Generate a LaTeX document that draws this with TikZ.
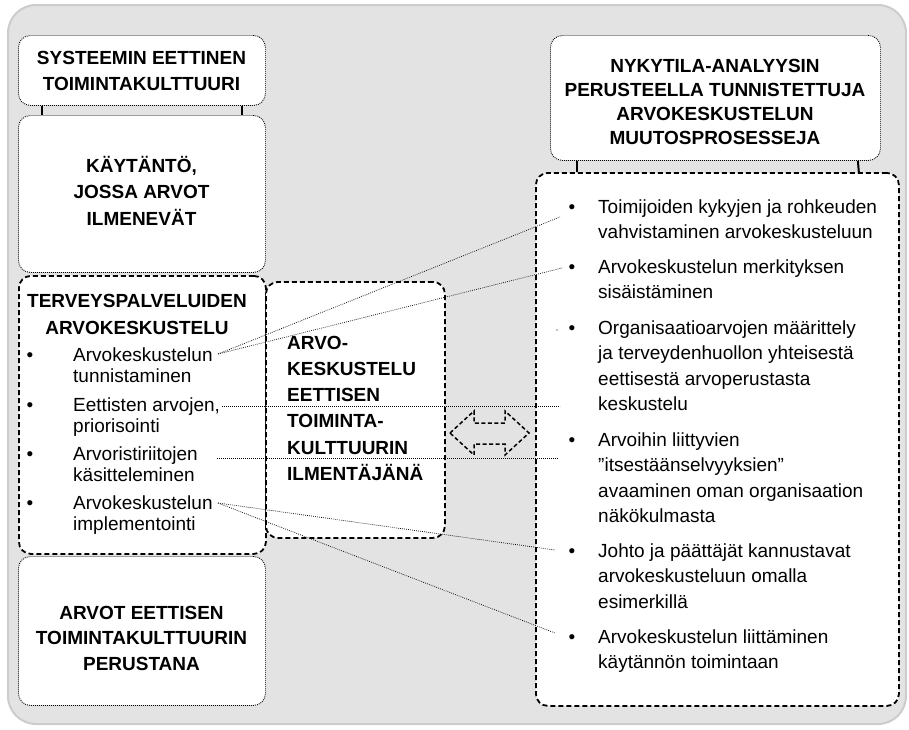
\documentclass[tikz,border=0pt]{standalone}
\usepackage{fontspec}
\setmainfont{Liberation Sans}
\begin{document}
\begin{tikzpicture}[x=1pt,y=-1pt,
  dotbox/.style={draw, fill=white, line width=0.9pt, dash pattern=on 0.9pt off 1.1pt,
    rounded corners=12pt, inner sep=0pt, anchor=north west},
  dashbox/.style={draw, fill=white, line width=1.8pt, dash pattern=on 5pt off 3pt,
    rounded corners=12pt, inner sep=0pt, anchor=north west},
  head/.style={inner sep=0pt, font=\bfseries\fontsize{19}{26}\selectfont, align=center, anchor=base},
  ltxt/.style={inner sep=0pt, font=\fontsize{19}{21.5}\selectfont, align=left, anchor=base west},
  rtxt/.style={inner sep=0pt, font=\fontsize{19}{25.5}\selectfont, align=left, anchor=base west},
  bul/.style={inner sep=0pt, font=\fontsize{19}{22}\selectfont, anchor=base},
  link/.style={draw, line width=0.7pt, dash pattern=on 0.8pt off 1.2pt},
  joint/.style={draw, line width=2pt}
]
\useasboundingbox (0,0) rectangle (909,729);

% grey panel
\draw[fill=black!11, draw=black!20, line width=2pt, rounded corners=28pt]
  (8,5) rectangle (906,724);

% left column
\node[dotbox, minimum width=247pt, minimum height=70pt] (sys) at (18,35) {};
\node[dotbox, minimum width=247pt, minimum height=157pt] (prac) at (18,115) {};
\node[dashbox, minimum width=247pt, minimum height=278pt] (disc) at (18,275) {};
\node[dotbox, minimum width=247pt, minimum height=149pt] (found) at (18,556) {};

% middle box
\node[dashbox, minimum width=179pt, minimum height=256pt] (mid) at (265,281) {};

% right column
\node[dotbox, minimum width=330pt, minimum height=125pt] (now) at (550,35) {};
\node[dashbox, minimum width=363pt, minimum height=533pt] (proc) at (535,172) {};

% short joints between boxes
\draw[joint] ([xshift=24pt]sys.south west) -- ([xshift=24pt]prac.north west);
\draw[joint] ([xshift=-24pt]sys.south east) -- ([xshift=-24pt]prac.north east);
\draw[joint] ([xshift=27pt]now.south west) -- ([xshift=42pt]proc.north west);
\draw[joint] ([xshift=-23pt]now.south east) -- ([xshift=-41pt]proc.north east);

% headings (anchored at the baseline of their last line)
\node[head] (sysT) at (141.5,90) {SYSTEEMIN EETTINEN\\TOIMINTAKULTTUURI};
\node[head, font=\bfseries\fontsize{19}{26.5}\selectfont] (pracT) at (141.5,225) {KÄYTÄNTÖ,\\JOSSA ARVOT\\ILMENEVÄT};
\node[head, font=\bfseries\fontsize{19}{27}\selectfont] (discT) at (137,334) {TERVEYSPALVELUIDEN\\ARVOKESKUSTELU};
\node[head, font=\bfseries\fontsize{19}{25.5}\selectfont] (foundT) at (141.5,670) {ARVOT EETTISEN\\TOIMINTAKULTTUURIN\\PERUSTANA};
\node[head, font=\bfseries\fontsize{19}{24}\selectfont] (nowT) at (715,144) {NYKYTILA-ANALYYSIN\\PERUSTEELLA TUNNISTETTUJA\\ARVOKESKUSTELUN\\MUUTOSPROSESSEJA};
\node[head, font=\bfseries\fontsize{19}{26.3}\selectfont, align=left, anchor=base west] (midT) at (287,480.5)
  {ARVO-\\KESKUSTELU\\EETTISEN\\TOIMINTA-\\KULTTUURIN\\ILMENTÄJÄNÄ};

% left list
\node[bul] (lb1) at (30,361) {•};
\node[ltxt] (l1) at (73,382.5) {Arvokeskustelun\\tunnistaminen};
\node[bul] (lb2) at (30,411) {•};
\node[ltxt] (l2) at (73,432.5) {Eettisten arvojen,\\priorisointi};
\node[bul] (lb3) at (30,460) {•};
\node[ltxt] (l3) at (73,481.5) {Arvoristiriitojen\\käsitteleminen};
\node[bul] (lb4) at (30,509) {•};
\node[ltxt] (l4) at (73,530.5) {Arvokeskustelun\\implementointi};

% right list
\node[bul] (rb1) at (572,213) {•};
\node[rtxt] (r1) at (598,238.5) {Toimijoiden kykyjen ja rohkeuden\\vahvistaminen arvokeskusteluun};
\node[bul] (rb2) at (572,273) {•};
\node[rtxt] (r2) at (598,298.5) {Arvokeskustelun merkityksen\\sisäistäminen};
\node[bul] (rb3) at (572,334) {•};
\node[rtxt] (r3) at (598,410.5) {Organisaatioarvojen määrittely\\ja terveydenhuollon yhteisestä\\eettisestä arvoperustasta\\keskustelu};
\node[bul] (rb4) at (572,446) {•};
\node[rtxt] (r4) at (598,522.5) {Arvoihin liittyvien\\”itsestäänselvyyksien”\\avaaminen oman organisaation\\näkökulmasta};
\node[bul] (rb5) at (572,557) {•};
\node[rtxt] (r5) at (598,608) {Johto ja päättäjät kannustavat\\arvokeskusteluun omalla\\esimerkillä};
\node[bul] (rb6) at (572,643) {•};
\node[rtxt] (r6) at (598,668.5) {Arvokeskustelun liittäminen\\käytännön toimintaan};

% dotted links between the lists
\coordinate (a1) at (218,354);
\coordinate (a2) at (222,406);
\coordinate (a3) at (217,458);
\coordinate (a4) at (218,503);
\coordinate (e1) at (560,217);
\coordinate (e2) at (562,268);
\coordinate (e3) at (560,406);
\coordinate (e4) at (558,458);
\coordinate (e5) at (555,550);
\coordinate (e6) at (555,633);
\draw[link] (a1) -- (e1);
\draw[link] (a1) -- (e2);
\draw[link] (a2) -- (e3);
\draw[link] (a3) -- (e4);
\draw[link] (a4) -- (e5);
\draw[link] (a4) -- (e6);
\fill (557,330) circle (0.7pt);

% two-way arrow
\draw[line width=1.5pt, dash pattern=on 4pt off 2.5pt, line join=miter]
  (450,433) -- (474,411) -- (474,423) -- (505,423) -- (505,411) -- (529,433)
  -- (505,455) -- (505,444) -- (474,444) -- (474,455) -- cycle;
\end{tikzpicture}
\end{document}
